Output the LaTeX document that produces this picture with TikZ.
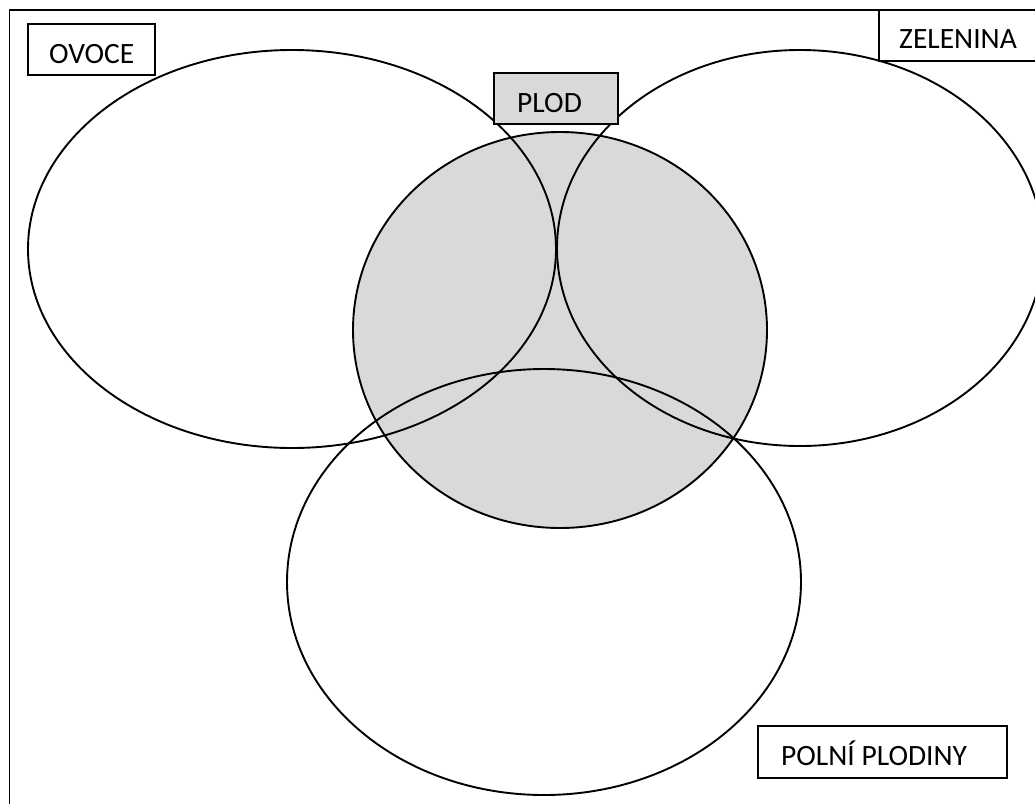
\documentclass[tikz,border=0pt]{standalone}
\usepackage{fontspec}
\setmainfont{Carlito}
\usetikzlibrary{shapes.geometric}
\definecolor{plodgray}{HTML}{D9D9D9}
\begin{document}
\begin{tikzpicture}[x=1pt,y=-1pt,
  setshape/.style={draw, ellipse, line width=1.9pt, inner sep=0pt, outer sep=0pt},
  labelbox/.style={draw, line width=1.6pt, fill=white, anchor=north west, inner sep=0pt, outer sep=0pt},
  labeltext/.style={anchor=base west, inner sep=0pt, font=\fontsize{29.5}{35}\selectfont}]
\useasboundingbox (0,0) rectangle (1035,803);
\clip (0,0) rectangle (1035,803);
% frame
\draw[line width=1.6pt] (9.5,10) rectangle (1060,830);
% sets
\node[setshape, fill=plodgray, minimum width=414, minimum height=396] (plod) at (560,330) {};
\node[setshape, minimum width=528, minimum height=398] (ovoce) at (292,249) {};
\node[setshape, minimum width=486, minimum height=396] (zelenina) at (800,248) {};
\node[setshape, minimum width=514, minimum height=426] (polni) at (544,582) {};
% label boxes
\node[labelbox, minimum width=127, minimum height=51] (ovoceBox) at (28,24) {};
\node[labeltext] (ovoceText) at (49,63) {OVOCE};
\node[labelbox, minimum width=200, minimum height=51] (zeleninaBox) at (879,10) {};
\node[labeltext] (zeleninaText) at (899,48) {ZELENINA};
\node[labelbox, fill=plodgray, minimum width=124, minimum height=51] (plodBox) at (494,73) {};
\node[labeltext] (plodText) at (517,112) {PLOD};
\node[labelbox, minimum width=249, minimum height=52] (polniBox) at (758,726) {};
\node[labeltext] (polniText) at (781,765) {POLNÍ PLODINY};
\end{tikzpicture}
\end{document}
